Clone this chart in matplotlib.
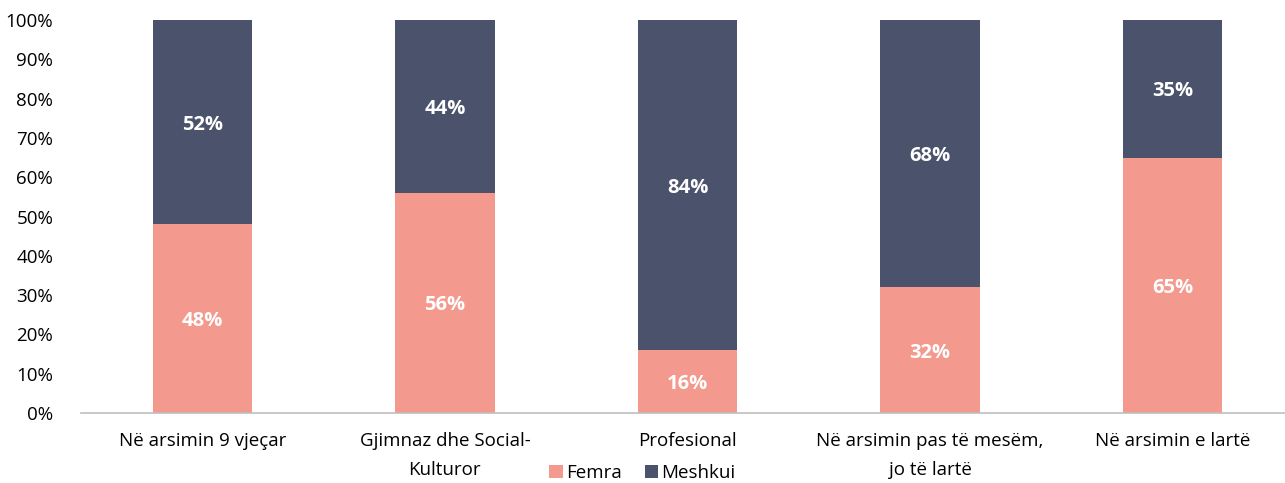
import matplotlib
matplotlib.use("Agg")
import matplotlib.pyplot as plt
from matplotlib.ticker import FuncFormatter

categories = ["Në arsimin 9 vjeçar", "Gjimnaz dhe Social-\nKulturor", "Profesional",
              "Në arsimin pas të mesëm,\njo të lartë", "Në arsimin e lartë"]
femra = [48, 56, 16, 32, 65]
meshkui = [52, 44, 84, 68, 35]
yticks = list(range(0, 101, 10))

plt.rcParams['font.family'] = ['Open Sans', 'DejaVu Sans']
c_f = "#F4998D"
c_m = "#4B526B"

fig = plt.figure(figsize=(12.85, 4.83), dpi=100)
W, H = 1285, 483
left, right = 81, 1294
top, bottom = 20, 413
ax = fig.add_axes([left / W, 1 - bottom / H, (right - left) / W, (bottom - top) / H])

x = list(range(len(categories)))
bw = 0.41
b1 = ax.bar(x, femra, bw, color=c_f, label="Femra")
b2 = ax.bar(x, meshkui, bw, bottom=femra, color=c_m, label="Meshkui")

for i in x:
    ax.text(i, femra[i] / 2, f"{femra[i]}%", ha="center", va="center_baseline",
            color="white", fontsize=14.5, fontweight="bold")
    ax.text(i, femra[i] + meshkui[i] / 2, f"{meshkui[i]}%", ha="center", va="center_baseline",
            color="white", fontsize=14.5, fontweight="bold")

ax.set_xlim(-0.5, len(categories) - 0.5)
ax.set_ylim(0, 100)
ax.set_yticks(yticks)
ax.yaxis.set_major_formatter(FuncFormatter(lambda v, p: f"{int(v)}%"))
ax.set_xticks(x)
ax.set_xticklabels(categories, fontsize=13.5, linespacing=1.75)
ax.tick_params(axis="y", labelsize=13.5, length=0, pad=20)
ax.tick_params(axis="x", length=0, pad=14)
for s in ["top", "right", "left"]:
    ax.spines[s].set_visible(False)
ax.spines["bottom"].set_color("#BFBFBF")
ax.spines["bottom"].set_linewidth(1.2)

fig.legend(handles=[b1, b2], loc="center", bbox_to_anchor=(0.5, 1 - 473 / H), ncol=2,
           frameon=False, fontsize=13.5, handlelength=0.7, handleheight=0.7,
           handletextpad=0.2, columnspacing=1.2)

fig.savefig("out.png", dpi=100)
